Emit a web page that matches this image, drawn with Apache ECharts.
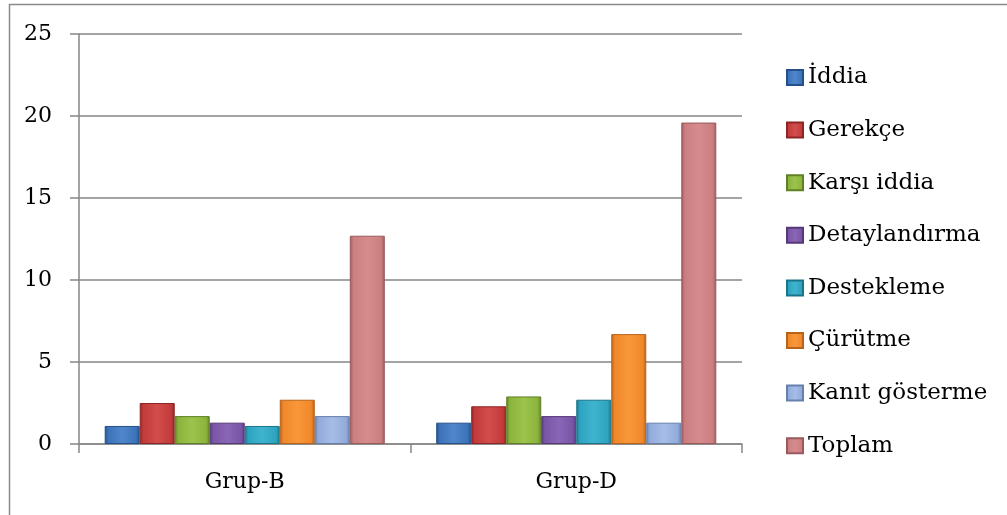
<!DOCTYPE html>
<html>
<head>
<meta charset="utf-8">
<script src="https://cdn.jsdelivr.net/npm/echarts@6/dist/echarts.min.js"></script>
<style>
html,body{margin:0;padding:0;background:#fff;}
#c{width:1007px;height:515px;}
</style>
</head>
<body>
<div id="c"></div>
<script>
const categories = ['Grup-B', 'Grup-D'];
const seriesNames = ['İddia', 'Gerekçe', 'Karşı iddia', 'Detaylandırma', 'Destekleme', 'Çürütme', 'Kanıt gösterme', 'Toplam'];
const iddia = [1.1, 1.3];
const gerekce = [2.5, 2.3];
const karsiIddia = [1.7, 2.9];
const detaylandirma = [1.3, 1.7];
const destekleme = [1.1, 2.7];
const curutme = [2.7, 6.7];
const kanitGosterme = [1.7, 1.3];
const toplam = [12.7, 19.6];
const yTicks = [0, 5, 10, 15, 20, 25];

const seriesData = [iddia, gerekce, karsiIddia, detaylandirma, destekleme, curutme, kanitGosterme, toplam];
const baseColors = ['#3C72B8', '#C33B3B', '#8CB43C', '#7A55A6', '#2EA3BF', '#F0882A', '#93ABDA', '#CB7E80'];
const darkColors = ['#24508A', '#8E2525', '#5F8025', '#553878', '#1B7588', '#B8621A', '#6680AE', '#9A5A5C'];
const lightColors = ['#4F86CC', '#D24D4D', '#9CC44C', '#8A66B6', '#3FB4CF', '#F8983A', '#A6BDE8', '#D58C8E'];

const FONT = 'DejaVu Serif';
const chart = echarts.init(document.getElementById('c'), null, {renderer: 'canvas'});

const series = seriesNames.map((name, i) => ({
  name: name,
  type: 'bar',
  data: seriesData[i],
  barGap: '0%',
  barCategoryGap: '15.5%',
  itemStyle: {
    color: new echarts.graphic.LinearGradient(0, 0, 1, 0, [
      {offset: 0, color: darkColors[i]},
      {offset: 0.1, color: baseColors[i]},
      {offset: 0.5, color: lightColors[i]},
      {offset: 0.9, color: baseColors[i]},
      {offset: 1, color: darkColors[i]}
    ]),
    borderColor: darkColors[i],
    borderWidth: 1
  }
}));

chart.setOption({
  animation: false,
  backgroundColor: '#ffffff',
  textStyle: {fontFamily: FONT},
  graphic: [{
    type: 'rect',
    left: 7, top: 2,
    shape: {width: 1020, height: 540},
    style: {fill: 'none', stroke: '#8a8a8a', lineWidth: 1.5},
    silent: true
  }],
  grid: {left: 79, right: 265, top: 34, bottom: 71},
  legend: {
    orient: 'vertical',
    left: 781,
    top: 61,
    itemWidth: 16,
    itemHeight: 15,
    itemGap: 29.6,
    icon: 'rect',
    data: seriesNames,
    textStyle: {fontFamily: FONT, fontSize: 23, color: '#000', padding: [0, 0, 0, 0]}
  },
  xAxis: {
    type: 'category',
    data: categories,
    axisLine: {lineStyle: {color: '#868686', width: 1.5}},
    axisTick: {show: true, length: 9, lineStyle: {color: '#868686', width: 1.5}},
    axisLabel: {fontFamily: FONT, fontSize: 22, color: '#000', margin: 27}
  },
  yAxis: {
    type: 'value',
    min: yTicks[0],
    max: yTicks[yTicks.length - 1],
    interval: 5,
    axisLine: {show: true, lineStyle: {color: '#868686', width: 1.5}},
    axisTick: {show: true, length: 9, lineStyle: {color: '#868686', width: 1.5}},
    splitLine: {lineStyle: {color: '#868686', width: 1.5}},
    axisLabel: {fontFamily: FONT, fontSize: 22, color: '#000', margin: 27}
  },
  series: series
});
</script>
</body>
</html>
